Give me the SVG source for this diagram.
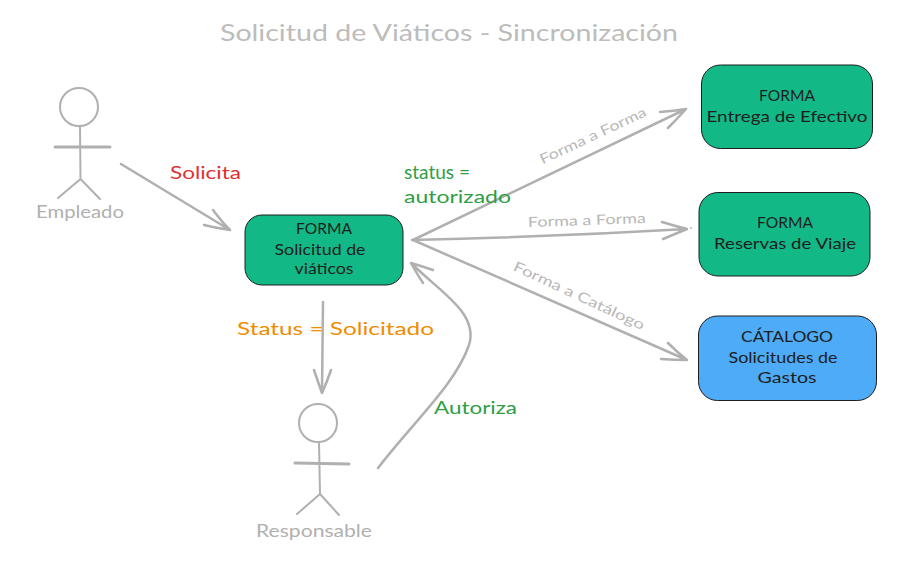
<svg xmlns="http://www.w3.org/2000/svg" width="903" height="563" viewBox="0 0 903 563">
<style>
text{font-family:"Lato","Liberation Sans",sans-serif;text-anchor:middle}
.box{stroke:#1e1e1e;stroke-width:1}
.green{fill:#12b886}
.blue{fill:#4dabf7}
.dark{fill:#1e1e1e;font-size:15px}
.act{fill:none;stroke:#b0b0b0;stroke-width:2;stroke-linecap:round}
.thick{stroke-width:3}
.con{fill:none;stroke:#b0b0b0;stroke-width:2.5;stroke-linecap:round;stroke-linejoin:round}
.lab{font-size:18px}
.small{fill:#b8b8b8;font-size:14px}
</style>
<rect width="903" height="563" fill="#ffffff"/>
<text id="title" x="449" y="41" font-size="24" fill="#bcbcbc" textLength="458" lengthAdjust="spacingAndGlyphs">Solicitud de Viáticos - Sincronización</text>
<g id="connectors">
<path class="con" d="M121 164L230 230M213 210Q222 222 230 230Q216 228 204 225"/>
<path class="con" d="M323 302L322 393M314 370Q318 382 322 393Q327 382 331 370"/>
<path class="con" d="M378 468C415 420 455 385 469 345C479 313 440 292 411 263M433 270Q421 266 411 263Q417 274 423 283"/>
<path class="con" d="M413 240L686 109M660 112Q674 111 686 109Q677 119 668 128"/>
<path class="con" d="M412 240Q550 237 687 229M662 222Q675 226 687 229Q675 234 663 239"/>
<path class="con" d="M413 240L687 360M668 343Q677 352 687 360Q674 360 661 359"/>
<circle cx="691" cy="228" r="0.9" fill="#b0b0b0"/>
</g>
<g id="labels">
<text class="lab" x="205.500" y="179" fill="#e03131" textLength="71" lengthAdjust="spacingAndGlyphs">Solicita</text>
<text x="437" y="179" font-size="20" fill="#2f9e44" textLength="66" lengthAdjust="spacingAndGlyphs">status =</text>
<text class="lab" x="457.500" y="203" fill="#2f9e44" textLength="107" lengthAdjust="spacingAndGlyphs">autorizado</text>
<text class="lab" x="335.500" y="335" fill="#f08c00" textLength="197" lengthAdjust="spacingAndGlyphs">Status = Solicitado</text>
<text class="lab" x="475.500" y="414" fill="#2f9e44" textLength="83" lengthAdjust="spacingAndGlyphs">Autoriza</text>
<text class="small" transform="translate(595 140) rotate(-25)" textLength="116" lengthAdjust="spacingAndGlyphs">Forma a Forma</text>
<text class="small" transform="translate(587 225) rotate(-2)" textLength="118" lengthAdjust="spacingAndGlyphs">Forma a Forma</text>
<text class="small" transform="translate(577 300) rotate(25)" textLength="143" lengthAdjust="spacingAndGlyphs">Forma a Catálogo</text>
</g>
<g id="empleado">
<circle class="act" cx="79" cy="107" r="19"/>
<path class="act" d="M80 127L80.500 179L58 198M80.500 179L100 199"/>
<path class="act thick" d="M55 147L110 147"/>
<text x="80" y="218" font-size="18" fill="#b0b0b0" textLength="88" lengthAdjust="spacingAndGlyphs">Empleado</text>
</g>
<g id="responsable">
<circle class="act" cx="318" cy="423" r="19"/>
<path class="act" d="M319 442L320 494L297 514M320 494L339 515"/>
<path class="act thick" d="M295 463L349 464"/>
<text x="314" y="537" font-size="18" fill="#b0b0b0" textLength="116" lengthAdjust="spacingAndGlyphs">Responsable</text>
</g>
<g id="forma-solicitud">
<rect class="box green" x="245" y="215" width="158" height="70" rx="17"/>
<text class="dark" x="324" y="234" textLength="56" lengthAdjust="spacingAndGlyphs">FORMA</text>
<text class="dark" x="320" y="255" textLength="91" lengthAdjust="spacingAndGlyphs">Solicitud de</text>
<text class="dark" x="324" y="274" textLength="59" lengthAdjust="spacingAndGlyphs">viáticos</text>
</g>
<g id="forma-entrega">
<rect class="box green" x="701.500" y="65" width="171" height="83.500" rx="19"/>
<text class="dark" x="787" y="101" textLength="56" lengthAdjust="spacingAndGlyphs">FORMA</text>
<text class="dark" x="787" y="122" textLength="161" lengthAdjust="spacingAndGlyphs">Entrega de Efectivo</text>
</g>
<g id="forma-reservas">
<rect class="box green" x="699" y="192.500" width="171" height="83.500" rx="19"/>
<text class="dark" x="785" y="228" textLength="56" lengthAdjust="spacingAndGlyphs">FORMA</text>
<text class="dark" x="785" y="249" textLength="142" lengthAdjust="spacingAndGlyphs">Reservas de Viaje</text>
</g>
<g id="catalogo">
<rect class="box blue" x="698.500" y="316" width="178" height="84.500" rx="19"/>
<text class="dark" x="787" y="342" textLength="92" lengthAdjust="spacingAndGlyphs">CÁTALOGO</text>
<text class="dark" x="783" y="363" textLength="109" lengthAdjust="spacingAndGlyphs">Solicitudes de</text>
<text class="dark" x="787" y="383" textLength="59" lengthAdjust="spacingAndGlyphs">Gastos</text>
</g>
</svg>
